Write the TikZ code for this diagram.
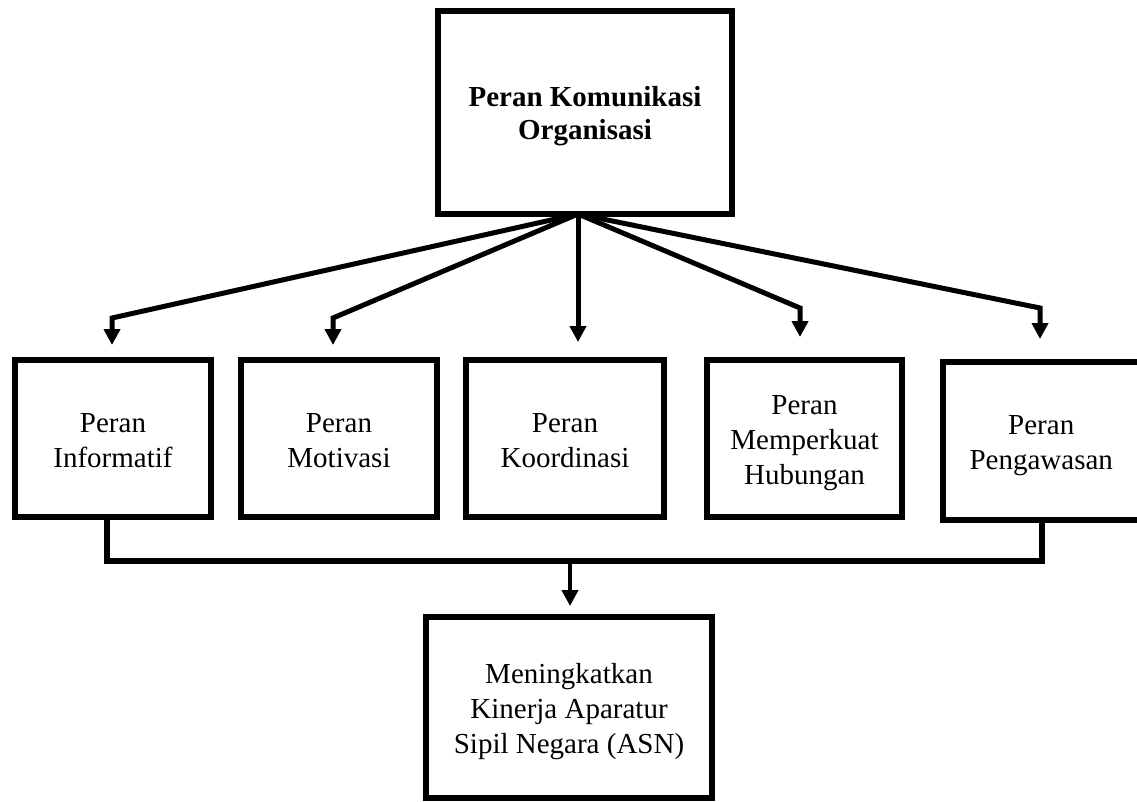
\documentclass[tikz,border=0pt]{standalone}
\usepackage{fontspec}
\setmainfont{Liberation Serif}
\usetikzlibrary{arrows.meta}
\newcommand{\tstr}{\rule{0pt}{28pt}}
\newcommand{\bstr}{\rule[-6pt]{0pt}{6pt}}
\begin{document}
\begin{tikzpicture}[x=1pt,y=-1pt,
  box/.style={draw, line width=6pt, align=center, inner sep=0pt,
    font=\fontsize{29}{35}\selectfont},
  tip/.style={-{Triangle[width=16pt,length=16pt]}},
  fanline/.style={tip, line width=5pt},
  bus/.style={line width=6pt},
  down/.style={tip, line width=4pt}
]
\useasboundingbox (0,0) rectangle (1137,801);
\clip (0,0) rectangle (1137,801);

% boxes
\node[box, font=\fontsize{29}{33}\selectfont\bfseries, minimum width=294pt, minimum height=203pt]
  (top) at (585,112.5) {\tstr Peran Komunikasi\\Organisasi\bstr};
\node[box, minimum width=196pt, minimum height=157pt] (b1) at (113,438.5) {\tstr Peran\\Informatif\bstr};
\node[box, minimum width=196pt, minimum height=157pt] (b2) at (339,438.5) {\tstr Peran\\Motivasi\bstr};
\node[box, minimum width=198pt, minimum height=157pt] (b3) at (565,438.5) {\tstr Peran\\Koordinasi\bstr};
\node[box, minimum width=195pt, minimum height=157pt] (b4) at (804.5,438.5) {\tstr Peran\\Memperkuat\\Hubungan\bstr};
\node[box, minimum width=196.5pt, minimum height=158pt] (b5) at (1041.25,441) {\tstr Peran\\Pengawasan\bstr};
\node[box, minimum width=286pt, minimum height=181pt] (bot) at (569,707.5) {\tstr Meningkatkan\\Kinerja Aparatur\\Sipil Negara (ASN)\bstr};

% fan-out from the top box
\coordinate (fan) at (578,214);
\coordinate (k1) at (112,318);
\coordinate (k2) at (333,318);
\coordinate (k4) at (800,308);
\coordinate (k5) at (1040,308);
\draw[fanline, shorten >=12pt] (fan) -- (k1) -- (k1 |- b1.north);
\draw[fanline, shorten >=12pt] (fan) -- (k2) -- (k2 |- b2.north);
\draw[fanline, shorten >=15pt] (fan) -- (fan |- b3.north);
\draw[fanline, shorten >=20pt] (fan) -- (k4) -- (k4 |- b4.north);
\draw[fanline, shorten >=20pt] (fan) -- (k5) -- (k5 |- b5.north);

% collecting bus
\coordinate (jl) at (107,561);
\coordinate (jr) at (1042,561);
\coordinate (jm) at (570,561);
\draw[bus] (b1.south -| jl) -- (jl) -- (jr) -- (b5.south -| jr);
\draw[down, shorten >=8pt] (jm) -- (jm |- bot.north);
\end{tikzpicture}
\end{document}
